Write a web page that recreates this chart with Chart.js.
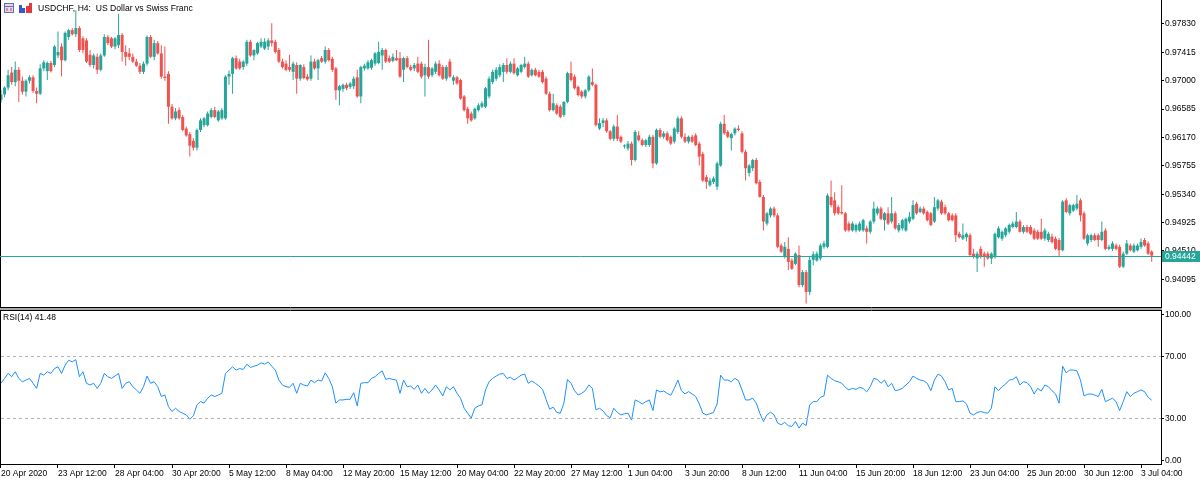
<!DOCTYPE html>
<html>
<head>
<meta charset="utf-8">
<title>USDCHF H4</title>
<script src="https://cdn.jsdelivr.net/npm/chart.js@4.4.1/dist/chart.umd.min.js"></script>
<style>
  html, body { margin: 0; padding: 0; background: #fff; }
  #wrap { position: relative; width: 1200px; height: 484px; overflow: hidden; background: #fff; }
  canvas { position: absolute; left: 0; }
  #price { top: 0; }
  #rsi { top: 308px; }
</style>
</head>
<body>
<div id="wrap">
  <canvas id="price" width="1200" height="308"></canvas>
  <canvas id="rsi" width="1200" height="176"></canvas>
</div>
<script>
const symbolTitle = "USDCHF, H4:  US Dollar vs Swiss Franc";

// one label every 16 bars, starting at bar 0
const timeLabels = ["20 Apr 2020", "23 Apr 12:00", "28 Apr 04:00", "30 Apr 20:00", "5 May 12:00",
  "8 May 04:00", "12 May 20:00", "15 May 12:00", "20 May 04:00", "22 May 20:00", "27 May 12:00",
  "1 Jun 04:00", "3 Jun 20:00", "8 Jun 12:00", "11 Jun 04:00", "15 Jun 20:00", "18 Jun 12:00",
  "23 Jun 04:00", "25 Jun 20:00", "30 Jun 12:00", "3 Jul 04:00"];
const labelStep = 16;

const priceTicks = [0.94095, 0.94510, 0.94925, 0.95340, 0.95755, 0.96170, 0.96585, 0.97000, 0.97415, 0.97830];
const rsiTicks = [0, 30, 70, 100];
const rsiLevels = [30, 70];
const lastPrice = 0.94442;

const opens = [
  0.9672,0.9680,0.9690,0.9712,0.9698,0.9716,0.9700,0.9684,0.9700,0.9705,
  0.9685,0.9681,0.9718,0.9714,0.9726,0.9723,0.9737,0.9750,0.9730,0.9764,
  0.9774,0.9768,0.9777,0.9762,0.9759,0.9738,0.9723,0.9735,0.9716,0.9737,
  0.9764,0.9762,0.9750,0.9752,0.9767,0.9742,0.9740,0.9735,0.9728,0.9722,
  0.9713,0.9725,0.9764,0.9735,0.9755,0.9740,0.9706,0.9710,0.9662,0.9645,
  0.9657,0.9647,0.9630,0.9622,0.9612,0.9602,0.9628,0.9635,0.9635,0.9647,
  0.9657,0.9642,0.9645,0.9645,0.9706,0.9710,0.9733,0.9728,0.9720,0.9725,
  0.9757,0.9737,0.9740,0.9750,0.9747,0.9750,0.9759,0.9757,0.9745,0.9728,
  0.9725,0.9720,0.9713,0.9723,0.9703,0.9720,0.9706,0.9703,0.9728,0.9718,
  0.9733,0.9728,0.9745,0.9732,0.9718,0.9686,0.9688,0.9694,0.9691,0.9692,
  0.9705,0.9677,0.9718,0.9718,0.9719,0.9725,0.9726,0.9737,0.9745,0.9733,
  0.9729,0.9733,0.9733,0.9716,0.9733,0.9720,0.9718,0.9725,0.9725,0.9708,
  0.9720,0.9708,0.9713,0.9725,0.9720,0.9703,0.9728,0.9700,0.9705,0.9701,
  0.9677,0.9659,0.9652,0.9645,0.9657,0.9662,0.9662,0.9677,0.9698,0.9703,
  0.9708,0.9713,0.9723,0.9713,0.9725,0.9708,0.9713,0.9720,0.9725,0.9708,
  0.9716,0.9713,0.9713,0.9703,0.9681,0.9657,0.9664,0.9662,0.9650,0.9669,
  0.9711,0.9706,0.9691,0.9684,0.9677,0.9686,0.9698,0.9694,0.9630,0.9638,
  0.9642,0.9626,0.9615,0.9633,0.9618,0.9604,0.9601,0.9608,0.9584,0.9620,
  0.9613,0.9606,0.9606,0.9618,0.9579,0.9628,0.9618,0.9623,0.9618,0.9611,
  0.9625,0.9645,0.9618,0.9611,0.9618,0.9620,0.9608,0.9593,0.9559,0.9547,
  0.9552,0.9545,0.9576,0.9637,0.9625,0.9616,0.9623,0.9630,0.9623,0.9596,
  0.9565,0.9572,0.9584,0.9552,0.9530,0.9491,0.9503,0.9513,0.9503,0.9459,
  0.9442,0.9454,0.9437,0.9432,0.9445,0.9401,0.9420,0.9391,0.9438,0.9437,
  0.9440,0.9457,0.9457,0.9530,0.9525,0.9515,0.9508,0.9506,0.9491,0.9481,
  0.9481,0.9481,0.9481,0.9484,0.9479,0.9494,0.9506,0.9513,0.9496,0.9506,
  0.9494,0.9506,0.9481,0.9484,0.9481,0.9494,0.9498,0.9520,0.9508,0.9513,
  0.9508,0.9506,0.9494,0.9513,0.9523,0.9515,0.9506,0.9503,0.9503,0.9476,
  0.9469,0.9471,0.9474,0.9447,0.9440,0.9454,0.9447,0.9447,0.9440,0.9442,
  0.9471,0.9469,0.9474,0.9479,0.9486,0.9486,0.9494,0.9479,0.9486,0.9486,
  0.9481,0.9479,0.9479,0.9469,0.9467,0.9472,0.9469,0.9467,0.9452,0.9525,
  0.9506,0.9510,0.9513,0.9525,0.9506,0.9462,0.9467,0.9474,0.9474,0.9467,
  0.9481,0.9454,0.9454,0.9459,0.9457,0.9428,0.9447,0.9459,0.9450,0.9452,
  0.9457,0.9467,0.9462,0.9450
];

const highs = [
  0.9686,0.9692,0.9716,0.9720,0.9728,0.9720,0.9706,0.9702,0.9708,0.9708,
  0.9690,0.9724,0.9730,0.9728,0.9729,0.9752,0.9772,0.9755,0.9772,0.9776,
  0.9777,0.9803,0.9780,0.9765,0.9762,0.9745,0.9740,0.9740,0.9740,0.9768,
  0.9767,0.9764,0.9764,0.9798,0.9770,0.9752,0.9748,0.9740,0.9732,0.9726,
  0.9728,0.9766,0.9767,0.9760,0.9758,0.9752,0.9750,0.9714,0.9666,0.9660,
  0.9661,0.9650,0.9633,0.9625,0.9616,0.9630,0.9645,0.9647,0.9655,0.9660,
  0.9662,0.9657,0.9660,0.9708,0.9715,0.9735,0.9737,0.9732,0.9730,0.9760,
  0.9760,0.9746,0.9757,0.9762,0.9762,0.9762,0.9784,0.9760,0.9748,0.9732,
  0.9730,0.9738,0.9728,0.9727,0.9724,0.9724,0.9710,0.9737,0.9732,0.9732,
  0.9736,0.9750,0.9748,0.9735,0.9720,0.9694,0.9696,0.9697,0.9698,0.9706,
  0.9716,0.9722,0.9725,0.9730,0.9732,0.9742,0.9757,0.9748,0.9747,0.9737,
  0.9740,0.9745,0.9742,0.9735,0.9736,0.9723,0.9726,0.9735,0.9728,0.9725,
  0.9760,0.9720,0.9728,0.9730,0.9723,0.9723,0.9732,0.9708,0.9707,0.9703,
  0.9679,0.9662,0.9655,0.9661,0.9667,0.9670,0.9691,0.9706,0.9716,0.9720,
  0.9724,0.9726,0.9733,0.9728,0.9733,0.9720,0.9725,0.9735,0.9728,0.9718,
  0.9719,0.9716,0.9716,0.9706,0.9684,0.9681,0.9667,0.9665,0.9670,0.9713,
  0.9728,0.9709,0.9693,0.9686,0.9688,0.9708,0.9718,0.9696,0.9645,0.9646,
  0.9645,0.9628,0.9636,0.9650,0.9620,0.9607,0.9612,0.9611,0.9628,0.9626,
  0.9616,0.9615,0.9621,0.9621,0.9630,0.9631,0.9626,0.9626,0.9620,0.9632,
  0.9648,0.9648,0.9623,0.9620,0.9621,0.9623,0.9611,0.9596,0.9562,0.9558,
  0.9560,0.9582,0.9640,0.9650,0.9628,0.9624,0.9632,0.9635,0.9626,0.9599,
  0.9578,0.9586,0.9587,0.9555,0.9533,0.9508,0.9515,0.9516,0.9506,0.9462,
  0.9464,0.9471,0.9440,0.9449,0.9459,0.9423,0.9423,0.9442,0.9450,0.9450,
  0.9462,0.9466,0.9535,0.9554,0.9537,0.9518,0.9547,0.9508,0.9494,0.9494,
  0.9491,0.9494,0.9498,0.9488,0.9496,0.9523,0.9516,0.9516,0.9508,0.9515,
  0.9530,0.9509,0.9492,0.9498,0.9500,0.9508,0.9525,0.9523,0.9516,0.9516,
  0.9510,0.9508,0.9530,0.9527,0.9526,0.9519,0.9508,0.9506,0.9506,0.9479,
  0.9491,0.9478,0.9477,0.9454,0.9450,0.9458,0.9450,0.9450,0.9449,0.9478,
  0.9487,0.9481,0.9486,0.9491,0.9494,0.9508,0.9497,0.9489,0.9489,0.9489,
  0.9484,0.9482,0.9498,0.9484,0.9479,0.9476,0.9472,0.9470,0.9525,0.9528,
  0.9520,0.9520,0.9533,0.9528,0.9509,0.9476,0.9476,0.9477,0.9477,0.9494,
  0.9484,0.9460,0.9465,0.9462,0.9460,0.9450,0.9467,0.9462,0.9462,0.9462,
  0.9469,0.9470,0.9465,0.9452
];

const lows = [
  0.9668,0.9676,0.9686,0.9694,0.9692,0.9669,0.9680,0.9677,0.9696,0.9682,
  0.9667,0.9679,0.9714,0.9701,0.9712,0.9720,0.9733,0.9706,0.9728,0.9760,
  0.9766,0.9764,0.9742,0.9740,0.9726,0.9720,0.9718,0.9710,0.9714,0.9735,
  0.9752,0.9748,0.9746,0.9748,0.9728,0.9722,0.9730,0.9726,0.9720,0.9710,
  0.9710,0.9722,0.9733,0.9730,0.9738,0.9703,0.9700,0.9637,0.9643,0.9642,
  0.9643,0.9626,0.9618,0.9589,0.9598,0.9598,0.9625,0.9632,0.9633,0.9645,
  0.9645,0.9640,0.9643,0.9643,0.9694,0.9681,0.9716,0.9716,0.9716,0.9722,
  0.9735,0.9730,0.9738,0.9748,0.9745,0.9745,0.9750,0.9740,0.9726,0.9718,
  0.9714,0.9713,0.9701,0.9681,0.9700,0.9702,0.9700,0.9700,0.9716,0.9701,
  0.9726,0.9725,0.9728,0.9713,0.9672,0.9664,0.9684,0.9686,0.9688,0.9688,
  0.9675,0.9667,0.9715,0.9716,0.9716,0.9722,0.9724,0.9716,0.9726,0.9726,
  0.9727,0.9729,0.9704,0.9698,0.9718,0.9714,0.9714,0.9711,0.9703,0.9677,
  0.9703,0.9705,0.9710,0.9706,0.9701,0.9700,0.9704,0.9694,0.9694,0.9672,
  0.9655,0.9637,0.9640,0.9643,0.9655,0.9660,0.9660,0.9674,0.9695,0.9700,
  0.9705,0.9698,0.9710,0.9711,0.9709,0.9706,0.9711,0.9718,0.9704,0.9706,
  0.9706,0.9704,0.9696,0.9679,0.9655,0.9655,0.9650,0.9645,0.9647,0.9667,
  0.9699,0.9687,0.9677,0.9674,0.9674,0.9684,0.9692,0.9633,0.9628,0.9632,
  0.9624,0.9613,0.9612,0.9612,0.9609,0.9601,0.9598,0.9576,0.9582,0.9611,
  0.9604,0.9603,0.9603,0.9572,0.9577,0.9616,0.9615,0.9611,0.9606,0.9608,
  0.9622,0.9616,0.9609,0.9608,0.9609,0.9604,0.9576,0.9552,0.9542,0.9545,
  0.9549,0.9540,0.9574,0.9621,0.9616,0.9598,0.9620,0.9626,0.9594,0.9554,
  0.9560,0.9568,0.9548,0.9529,0.9481,0.9488,0.9500,0.9500,0.9455,0.9448,
  0.9440,0.9423,0.9423,0.9430,0.9398,0.9398,0.9374,0.9386,0.9430,0.9435,
  0.9437,0.9454,0.9455,0.9515,0.9503,0.9504,0.9504,0.9479,0.9479,0.9479,
  0.9478,0.9479,0.9479,0.9462,0.9476,0.9491,0.9503,0.9496,0.9481,0.9489,
  0.9491,0.9482,0.9478,0.9481,0.9479,0.9491,0.9496,0.9504,0.9506,0.9504,
  0.9494,0.9487,0.9492,0.9510,0.9504,0.9504,0.9494,0.9494,0.9464,0.9469,
  0.9467,0.9465,0.9443,0.9440,0.9420,0.9440,0.9428,0.9438,0.9432,0.9440,
  0.9469,0.9466,0.9471,0.9476,0.9484,0.9484,0.9478,0.9476,0.9477,0.9474,
  0.9467,0.9467,0.9467,0.9466,0.9464,0.9462,0.9452,0.9442,0.9450,0.9506,
  0.9503,0.9508,0.9510,0.9494,0.9467,0.9459,0.9464,0.9465,0.9457,0.9465,
  0.9452,0.9452,0.9451,0.9452,0.9426,0.9426,0.9445,0.9450,0.9448,0.9450,
  0.9454,0.9457,0.9445,0.9435
];

const closes = [
  0.9680,0.9690,0.9708,0.9698,0.9716,0.9700,0.9684,0.9700,0.9705,0.9685,
  0.9681,0.9718,0.9727,0.9726,0.9714,0.9750,0.9742,0.9730,0.9770,0.9774,
  0.9768,0.9777,0.9745,0.9745,0.9728,0.9723,0.9737,0.9716,0.9737,0.9764,
  0.9755,0.9750,0.9762,0.9767,0.9742,0.9735,0.9735,0.9728,0.9722,0.9713,
  0.9725,0.9764,0.9735,0.9755,0.9740,0.9706,0.9704,0.9662,0.9645,0.9655,
  0.9645,0.9628,0.9620,0.9605,0.9602,0.9628,0.9642,0.9645,0.9652,0.9657,
  0.9647,0.9655,0.9657,0.9706,0.9710,0.9733,0.9718,0.9718,0.9728,0.9757,
  0.9737,0.9745,0.9755,0.9757,0.9757,0.9759,0.9755,0.9742,0.9728,0.9720,
  0.9716,0.9716,0.9725,0.9703,0.9723,0.9704,0.9702,0.9728,0.9718,0.9730,
  0.9728,0.9745,0.9730,0.9716,0.9686,0.9692,0.9694,0.9689,0.9696,0.9703,
  0.9677,0.9720,0.9722,0.9727,0.9730,0.9740,0.9742,0.9745,0.9728,0.9728,
  0.9735,0.9730,0.9706,0.9733,0.9720,0.9716,0.9723,0.9713,0.9706,0.9720,
  0.9706,0.9718,0.9725,0.9708,0.9703,0.9720,0.9706,0.9705,0.9696,0.9674,
  0.9657,0.9645,0.9642,0.9659,0.9664,0.9667,0.9689,0.9703,0.9713,0.9716,
  0.9720,0.9723,0.9713,0.9725,0.9711,0.9718,0.9723,0.9725,0.9706,0.9716,
  0.9708,0.9706,0.9698,0.9681,0.9657,0.9667,0.9652,0.9647,0.9669,0.9711,
  0.9701,0.9689,0.9679,0.9677,0.9686,0.9706,0.9694,0.9635,0.9638,0.9642,
  0.9626,0.9615,0.9633,0.9615,0.9611,0.9605,0.9608,0.9584,0.9625,0.9613,
  0.9606,0.9613,0.9618,0.9579,0.9628,0.9618,0.9623,0.9613,0.9608,0.9630,
  0.9645,0.9618,0.9611,0.9618,0.9611,0.9606,0.9589,0.9554,0.9552,0.9554,
  0.9557,0.9579,0.9637,0.9623,0.9618,0.9622,0.9630,0.9628,0.9596,0.9572,
  0.9576,0.9584,0.9550,0.9530,0.9494,0.9506,0.9513,0.9503,0.9457,0.9450,
  0.9457,0.9435,0.9425,0.9447,0.9401,0.9420,0.9391,0.9438,0.9446,0.9447,
  0.9459,0.9462,0.9532,0.9518,0.9506,0.9506,0.9506,0.9481,0.9481,0.9491,
  0.9489,0.9491,0.9496,0.9479,0.9494,0.9513,0.9513,0.9498,0.9506,0.9491,
  0.9506,0.9484,0.9489,0.9496,0.9498,0.9501,0.9518,0.9506,0.9513,0.9506,
  0.9496,0.9489,0.9515,0.9525,0.9506,0.9506,0.9496,0.9496,0.9474,0.9471,
  0.9474,0.9476,0.9445,0.9442,0.9447,0.9442,0.9442,0.9440,0.9447,0.9476,
  0.9484,0.9479,0.9484,0.9489,0.9491,0.9494,0.9479,0.9486,0.9479,0.9476,
  0.9469,0.9469,0.9469,0.9481,0.9476,0.9464,0.9454,0.9452,0.9523,0.9508,
  0.9518,0.9518,0.9520,0.9503,0.9469,0.9474,0.9474,0.9467,0.9467,0.9479,
  0.9454,0.9457,0.9462,0.9454,0.9428,0.9447,0.9462,0.9452,0.9459,0.9459,
  0.9464,0.9459,0.9447,0.94442
];

const rsi = [
  52.4,55.6,58.8,56.7,59.9,55.6,53.4,54.5,55.6,52.4,
  49.1,58.8,57.7,59.9,58.8,62.0,63.1,58.8,64.2,67.4,
  66.3,67.8,56.7,59.9,52.4,51.3,52.4,49.1,52.4,58.8,
  56.7,55.6,57.1,58.8,49.1,52.4,53.4,50.2,48.1,45.9,
  50.2,57.1,52.4,53.4,50.2,43.8,44.8,37.3,34.1,36.2,
  34.1,33.0,31.9,29.1,31.3,38.4,40.5,39.5,42.7,44.8,
  43.8,44.8,45.9,58.8,61.0,63.1,61.0,62.0,61.4,64.8,
  62.7,63.5,64.2,65.7,64.8,66.3,63.5,61.0,54.5,51.3,
  50.2,49.8,52.4,45.9,52.4,51.3,50.6,54.5,52.8,54.5,
  53.9,59.2,55.6,50.2,39.5,41.6,41.6,42.0,42.0,46.3,
  37.7,52.4,52.8,52.8,55.6,56.7,58.8,60.5,54.9,55.6,
  54.9,54.5,45.9,54.5,50.2,50.6,48.5,51.3,45.9,49.1,
  45.9,48.1,51.3,48.1,44.2,50.2,48.1,50.2,45.9,42.7,
  36.2,33.0,29.8,36.2,37.7,38.4,48.1,53.4,55.6,57.1,
  58.4,58.8,55.6,56.3,54.5,56.0,57.7,58.4,52.4,53.9,
  52.4,50.6,48.5,42.0,35.6,36.9,33.5,33.0,39.5,54.9,
  52.4,47.6,44.8,45.9,47.6,51.3,49.1,35.2,36.2,34.5,
  31.5,30.0,36.2,33.5,31.9,32.6,33.0,28.5,41.6,40.5,
  39.0,40.5,41.6,34.7,48.1,46.8,47.4,45.9,44.6,49.1,
  54.5,47.6,45.5,47.0,45.5,43.8,39.0,33.0,31.9,32.6,
  33.5,39.0,57.7,54.5,54.5,53.4,55.6,54.1,48.1,41.6,
  41.6,42.7,39.5,33.0,27.6,31.9,33.7,31.9,26.6,25.5,
  27.0,24.9,24.4,27.6,23.3,26.6,24.9,38.4,40.5,40.5,
  43.3,44.2,57.7,55.6,54.1,53.4,52.4,49.8,48.1,49.1,
  48.5,49.8,49.1,46.8,50.2,55.6,54.9,52.4,54.5,50.2,
  52.4,47.6,48.1,49.1,51.3,53.4,57.1,55.6,54.5,54.1,
  52.4,47.6,54.5,58.4,57.1,53.4,48.1,49.1,40.5,40.5,
  41.0,39.0,33.0,31.9,33.4,34.1,33.4,33.0,36.2,50.2,
  47.6,50.2,51.9,54.5,54.9,56.7,51.3,53.4,52.8,50.2,
  45.5,49.1,47.4,51.3,50.2,47.6,45.5,39.5,63.5,59.2,
  61.0,61.0,60.5,54.5,44.2,45.3,45.5,44.8,43.8,48.5,
  40.5,41.6,42.7,40.5,34.7,40.5,47.0,43.8,45.9,47.0,
  48.1,47.0,43.3,41.48
];

const BULL = '#26a69a';
const BEAR = '#ef5350';
const RSI_COLOR = '#1e90ff';
const AXIS_W = 39;
// bar 0 sits 1px from the left edge, bars 3.5625px apart
const X_MIN = -0.28, X_MAX = 325.61;

Chart.defaults.font.family = "'Liberation Sans', Arial, sans-serif";
Chart.defaults.font.size = 8.5;
Chart.defaults.color = '#000';

const bars = closes.map((_, i) => i);
const candleColors = bars.map(i => closes[i] >= opens[i] ? BULL : BEAR);

function rightAxis(scale) {
  scale.width = AXIS_W;
  scale.paddingTop = 0;
  scale.paddingBottom = 0;
}

const pricePanel = {
  id: 'pricePanel',
  afterDraw(chart) {
    const { ctx, chartArea: a, scales: { y } } = chart;
    ctx.save();
    // frame
    ctx.strokeStyle = '#000';
    ctx.lineWidth = 1;
    ctx.beginPath();
    ctx.moveTo(0.5, 0); ctx.lineTo(0.5, a.bottom);
    ctx.moveTo(0, a.bottom - 0.5); ctx.lineTo(a.right + 1, a.bottom - 0.5);
    ctx.stroke();

    // last price line + tag
    const py = Math.round(y.getPixelForValue(lastPrice)) + 0.5;
    ctx.strokeStyle = BULL;
    ctx.beginPath();
    ctx.moveTo(a.left, py); ctx.lineTo(a.right, py);
    ctx.stroke();
    ctx.fillStyle = BULL;
    ctx.fillRect(a.right + 1, py - 5.5, 38, 11);
    ctx.fillStyle = '#fff';
    ctx.font = "8.5px 'Liberation Sans', Arial, sans-serif";
    ctx.textBaseline = 'middle';
    ctx.fillText(lastPrice.toFixed(5), a.right + 4, py + 0.5);

    // title icons
    ctx.fillStyle = '#e9d3e6';
    ctx.fillRect(4, 3, 10, 10);
    ctx.strokeStyle = '#5b72b8';
    ctx.strokeRect(4.5, 3.5, 9, 9);
    ctx.fillStyle = '#5b72b8';
    ctx.fillRect(4, 6, 10, 1);
    ctx.fillStyle = '#e58a9a';
    ctx.fillRect(6, 8, 2, 3); ctx.fillRect(10, 8, 2, 3);
    ctx.fillStyle = '#3a55d0';
    ctx.fillRect(19, 5, 3, 8); ctx.fillRect(22, 8, 3, 5);
    ctx.fillStyle = '#e23a3a';
    ctx.fillRect(26, 6, 3, 7); ctx.fillRect(29, 3, 3, 10);

    ctx.fillStyle = '#000';
    ctx.font = "8.6px 'Liberation Sans', Arial, sans-serif";
    ctx.fillText(symbolTitle, 38, 8.5);
    ctx.restore();
  }
};

const rsiPanel = {
  id: 'rsiPanel',
  afterDraw(chart) {
    const { ctx, chartArea: a, scales: { y } } = chart;
    ctx.save();
    // panel separator and frame
    ctx.fillStyle = '#a8a8a8';
    ctx.fillRect(0, 0, a.right + 1, 2);
    ctx.strokeStyle = '#000';
    ctx.lineWidth = 1;
    ctx.beginPath();
    ctx.moveTo(0, a.top + 0.5); ctx.lineTo(a.right + 1, a.top + 0.5);
    ctx.moveTo(0.5, a.top); ctx.lineTo(0.5, a.bottom);
    ctx.stroke();

    // 30 / 70 levels
    ctx.strokeStyle = '#b4b4b4';
    ctx.setLineDash([3, 3]);
    rsiLevels.forEach(v => {
      const ly = Math.round(y.getPixelForValue(v)) + 0.5;
      ctx.beginPath();
      ctx.moveTo(a.left + 1, ly); ctx.lineTo(a.right, ly);
      ctx.stroke();
    });
    ctx.setLineDash([]);

    // axis labels, kept inside the panel like the terminal does
    ctx.font = "8.5px 'Liberation Sans', Arial, sans-serif";
    ctx.textBaseline = 'middle';
    ctx.fillStyle = '#000';
    ctx.strokeStyle = '#000';
    rsiTicks.forEach(v => {
      let ty = y.getPixelForValue(v);
      ty = Math.min(Math.max(ty, a.top + 4), a.bottom - 4);
      const ry = Math.round(ty) + 0.5;
      ctx.beginPath();
      ctx.moveTo(a.right, ry); ctx.lineTo(a.right + 3, ry);
      ctx.stroke();
      ctx.fillText(v.toFixed(2), a.right + 4, ry);
    });

    ctx.fillText('RSI(14) ' + rsi[rsi.length - 1].toFixed(2), 3, a.top + 8);
    ctx.restore();
  }
};

new Chart(document.getElementById('price'), {
  type: 'bar',
  data: {
    datasets: [
      {
        label: 'wick',
        data: bars.map(i => ({ x: i, y: [lows[i], highs[i]] })),
        backgroundColor: candleColors,
        barThickness: 1,
        grouped: false,
        inflateAmount: 0
      },
      {
        label: 'body',
        data: bars.map(i => ({ x: i, y: [opens[i], closes[i]] })),
        backgroundColor: candleColors,
        barThickness: 3,
        minBarLength: 1,
        grouped: false,
        inflateAmount: 0
      }
    ]
  },
  options: {
    responsive: false,
    animation: false,
    events: [],
    layout: { padding: 0 },
    plugins: { legend: { display: false }, tooltip: { enabled: false } },
    scales: {
      x: { type: 'linear', min: X_MIN, max: X_MAX, display: false, offset: false, grid: { offset: false } },
      y: {
        position: 'right',
        min: 0.93675,
        max: 0.98181,
        beginAtZero: false,
        afterBuildTicks: s => { s.ticks = priceTicks.map(v => ({ value: v })); },
        afterFit: rightAxis,
        ticks: { callback: v => v.toFixed(5), padding: 1, autoSkip: false },
        grid: { drawOnChartArea: false, tickLength: 3, tickColor: '#000' },
        border: { color: '#000' }
      }
    }
  },
  plugins: [pricePanel]
});

new Chart(document.getElementById('rsi'), {
  type: 'line',
  data: {
    datasets: [{
      label: 'RSI(14)',
      data: bars.map(i => ({ x: i, y: rsi[i] })),
      borderColor: RSI_COLOR,
      borderWidth: 1,
      pointRadius: 0,
      tension: 0,
      fill: false
    }]
  },
  options: {
    responsive: false,
    animation: false,
    events: [],
    layout: { padding: { top: 2 } },
    plugins: { legend: { display: false }, tooltip: { enabled: false } },
    scales: {
      x: {
        type: 'linear',
        min: X_MIN,
        max: X_MAX,
        offset: false,
        afterBuildTicks: s => { s.ticks = timeLabels.map((_, k) => ({ value: k * labelStep })); },
        afterFit: s => { s.height = 20; s.paddingLeft = 0; s.paddingRight = 0; },
        ticks: {
          autoSkip: false,
          maxRotation: 0,
          align: 'start',
          padding: 1,
          callback: (v, k) => timeLabels[k]
        },
        grid: { drawOnChartArea: false, tickLength: 4, tickColor: '#000', offset: false },
        border: { color: '#000' }
      },
      y: {
        position: 'right',
        min: 0,
        max: 100,
        afterBuildTicks: s => { s.ticks = rsiTicks.map(v => ({ value: v })); },
        afterFit: rightAxis,
        ticks: { display: false },
        grid: { drawOnChartArea: false, drawTicks: false },
        border: { color: '#000' }
      }
    }
  },
  plugins: [rsiPanel]
});
</script>
</body>
</html>
